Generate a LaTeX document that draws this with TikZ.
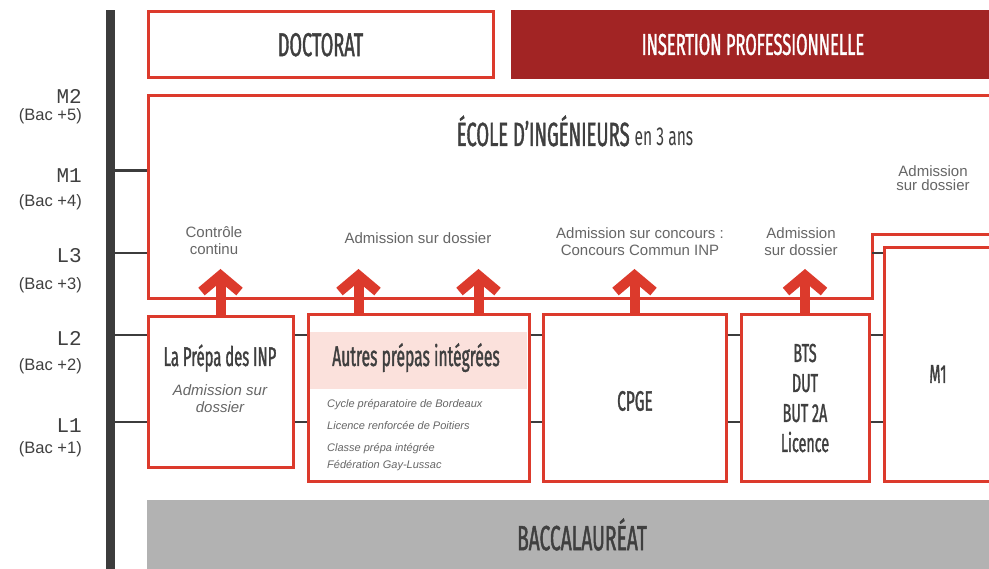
\documentclass[tikz,border=0pt]{standalone}
\usepackage{fontspec}
\usepackage{tikz}
\usetikzlibrary{arrows.meta}
\setmainfont{Liberation Sans}
\newfontfamily\dispfont[FakeStretch=0.55,FakeBold=1.2]{Fira Sans}
\newfontfamily\levelfont{Liberation Mono}
\definecolor{boxred}{HTML}{DC3A2C}
\definecolor{darkred}{HTML}{A22424}
\definecolor{bargray}{HTML}{3C3C3C}
\definecolor{txtgray}{HTML}{3F3F3F}
\definecolor{notegray}{HTML}{666666}
\definecolor{bacgray}{HTML}{B2B2B2}
\definecolor{pinkband}{HTML}{FBE1DC}

\begin{document}
\begin{tikzpicture}[x=1pt,y=-1pt]
      \tikzstyle{redbox}=[draw=boxred,line width=3pt,fill=white,inner sep=0pt]
      \tikzstyle{tick}=[draw=bargray,line width=2.5pt]
      \tikzstyle{uparrow}=[draw=boxred,line width=10pt,-{Straight Barb[length=16pt,width=38pt]}]
      \tikzstyle{head}=[text=txtgray,inner sep=0pt]
      \tikzstyle{note}=[text=notegray,inner sep=0pt,align=center,font=\fontsize{15}{17}\selectfont]
      \tikzstyle{small}=[text=notegray,inner sep=0pt,anchor=base west,font=\itshape\fontsize{11}{13}\selectfont]
      \useasboundingbox (0,0) rectangle (989,569);
      \clip (0,0) rectangle (989,569);

      \coordinate (tips) at (0,269);
      \coordinate (ecoleW) at (148.5,0);
      \coordinate (stepE) at (872,0);
      \foreach \lv/\yy in {M1/170.5, L3/253, L2/335, L1/422}
        \coordinate (lv\lv) at (0,\yy);

      \node[fill=bargray,minimum width=9pt,minimum height=559pt,inner sep=0pt] (axis) at (110.5,289.5) {};

      \foreach \lv/\ya/\yb/\n in {M2/96/116/5, M1/176/202/4, L3/256/285/3, L2/338/366/2, L1/426/449/1} {
        \node[text=txtgray,inner sep=0pt,anchor=east,font=\levelfont\fontsize{21}{21}\selectfont] (name\lv) at (82,\ya) {\lv};
        \node[text=txtgray,inner sep=0pt,anchor=east,font=\fontsize{16.5}{17}\selectfont] (bac\lv) at (82,\yb) {(Bac +\n)};
      }

      \draw[tick] (axis.east |- lvM1) -- (ecoleW |- lvM1);
      \draw[tick] (axis.east |- lvL3) -- (ecoleW |- lvL3);

      \node[redbox,minimum width=345pt,minimum height=66.5pt] (doct) at (320.5,44.75)
        {\dispfont\fontsize{33}{33}\selectfont\color{txtgray}DOCTORAT};
      \node[fill=darkred,minimum width=484pt,minimum height=69pt,inner sep=0pt] (insert) at (753,44.5)
        {\dispfont\fontsize{30}{30}\selectfont\color{white}INSERTION PROFESSIONNELLE};

      \draw[draw=boxred,line width=3pt,fill=white] (148.5,95.5) -- (1010,95.5) -- (1010,235) -- (872,235)
        -- (872,299) -- (148.5,299) -- cycle;
      \node[head,anchor=base] (ecole) at (575,146)
        {\dispfont\fontsize{33.5}{33.5}\selectfont ÉCOLE D’INGÉNIEURS {\fontspec[FakeStretch=0.6]{Fira Sans}\fontsize{26}{26}\selectfont en 3 ans}};

      \node[note] (ccont) at (214,241) {Contrôle\\continu};
      \node[note] (adoss) at (418,238) {Admission sur dossier};
      \node[note] (aconc) at (640,242) {Admission sur concours :\\Concours Commun INP};
      \node[note] (abts) at (801,242) {Admission\\sur dossier};
      \node[note,font=\fontsize{15}{14}\selectfont] (am1) at (933,178) {Admission\\sur dossier};

      \node[redbox,minimum width=145pt,minimum height=151pt] (prepa) at (220.5,392.5) {};
      \node[redbox,minimum width=221pt,minimum height=167pt] (autres) at (418.5,398.5) {};
      \node[redbox,minimum width=183pt,minimum height=167pt] (cpge) at (634.5,398.5) {};
      \node[redbox,minimum width=128pt,minimum height=167pt] (bts) at (805,398.5) {};
      \node[redbox,minimum width=108pt,minimum height=234pt] (m1) at (938,365) {};

      \foreach \lv in {L2,L1} {
        \draw[tick] (axis.east |- lv\lv) -- (prepa.west |- lv\lv);
        \draw[tick] (prepa.east |- lv\lv) -- (autres.west |- lv\lv);
        \draw[tick] (autres.east |- lv\lv) -- (cpge.west |- lv\lv);
        \draw[tick] (cpge.east |- lv\lv) -- (bts.west |- lv\lv);
        \draw[tick] (bts.east |- lv\lv) -- (m1.west |- lv\lv);
      }
      \draw[tick] (stepE |- lvL3) -- (m1.west |- lvL3);

      \fill[pinkband] (310,332) rectangle (527,389);

      \node[head,anchor=base] (prepaT) at (220,366) {\dispfont\fontsize{27}{27}\selectfont La Prépa des INP};
      \node[text=notegray,inner sep=0pt,anchor=base,align=center,font=\itshape\fontsize{15}{17}\selectfont] (prepaS) at (220,413) {Admission sur\\dossier};
      \node[head,anchor=base] (autresT) at (416,366) {\dispfont\fontsize{28.5}{28.5}\selectfont Autres prépas intégrées};
      \node[small] (bord) at (327,408) {Cycle préparatoire de Bordeaux};
      \node[small] (poit) at (327,430) {Licence renforcée de Poitiers};
      \node[small] (cpi) at (327,452) {Classe prépa intégrée};
      \node[small] (fgl) at (327,468) {Fédération Gay-Lussac};
      \node[head] (cpgeT) at (635,401) {\dispfont\fontsize{28}{28}\selectfont CPGE};
      \node[head,anchor=base,align=center,font=\dispfont\fontsize{26}{30}\selectfont] (btsT) at (805,452) {BTS\\DUT\\BUT 2A\\Licence};
      \node[head] (m1T) at (938,374) {\dispfont\fontsize{26}{26}\selectfont M1};

      \node[fill=bacgray,minimum width=870pt,minimum height=69pt,inner sep=0pt] (bac) at (582,534.5)
        {\dispfont\fontsize{35}{35}\selectfont\color{txtgray}BACCALAURÉAT};

      \draw[uparrow] (prepa.north) -- (prepa.north |- tips);
      \draw[uparrow] ([xshift=52pt]autres.north west) -- ([xshift=52pt]autres.north west |- tips);
      \draw[uparrow] ([xshift=172pt]autres.north west) -- ([xshift=172pt]autres.north west |- tips);
      \draw[uparrow] (cpge.north) -- (cpge.north |- tips);
      \draw[uparrow] (bts.north) -- (bts.north |- tips);
\end{tikzpicture}
\end{document}
